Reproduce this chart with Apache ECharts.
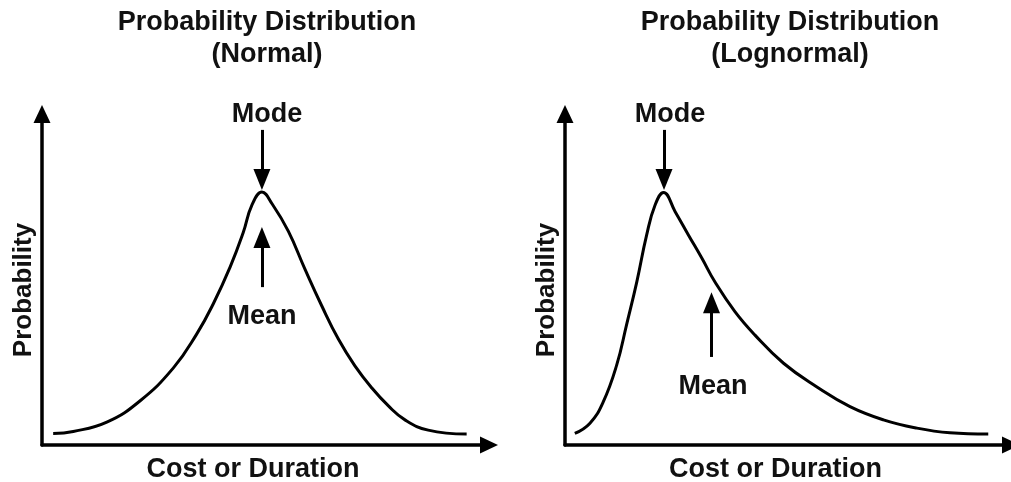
<!DOCTYPE html>
<html>
<head>
<meta charset="utf-8">
<script src="https://cdn.jsdelivr.net/npm/echarts@6/dist/echarts.min.js"></script>
<style>
html,body{margin:0;padding:0;background:#fff;}
#chart{width:1011px;height:482px;}
</style>
</head>
<body>
<div id="chart"></div>
<script>
// ---- data (arbitrary units: x 0..100 along cost axis, y 0..100 probability) ----
const titles = ['Probability Distribution\n(Normal)', 'Probability Distribution\n(Lognormal)'];
const xAxisName = 'Cost or Duration';
const yAxisName = 'Probability';

const normalX = [2.5, 7.0, 14.5, 21.9, 29.4, 34.6, 38.3, 42.1, 45.0, 47.0, 49.2, 51.5, 55.1, 58.8, 62.6, 66.3, 70.0, 73.8, 77.5, 81.2, 86.4, 95.0];
const normalY = [3.5, 4.1, 6.9, 13.3, 23.3, 33.5, 42.6, 53.8, 64.1, 72.6, 76.4, 72.8, 64.6, 53.2, 42.0, 32.0, 23.9, 17.2, 11.8, 7.6, 4.5, 3.3];

const lognormalX = [2.2, 5.6, 8.6, 11.6, 13.8, 16.1, 18.3, 20.2, 22.1, 24.7, 27.7, 30.7, 33.6, 38.1, 42.6, 49.0, 56.4, 63.9, 71.4, 78.9, 86.3, 94.9];
const lognormalY = [3.5, 6.6, 13.1, 24.2, 36.3, 49.3, 63.4, 72.5, 76.3, 70.5, 63.4, 56.4, 49.3, 40.3, 33.2, 24.7, 17.6, 11.6, 7.6, 5.1, 3.7, 3.3];

// annotation arrows: [x, fromY, toY]
const modeArrows = [[49.2, 95.2, 80.2], [22.2, 95.2, 80.2]];
const meanArrows = [[49.2, 47.7, 62.7], [32.85, 26.6, 43.0]];
const modeLabel = 'Mode';
const meanLabel = 'Mean';

function pairs(xs, ys) { return xs.map((x, i) => [x, ys[i]]); }

const FONT = '"Liberation Sans", Arial, sans-serif';
const TXT = '#111';

function arrowLine(a, label, dx, dist) {
  return [{ coord: [a[0], a[1]], label: { show: true, formatter: label, position: 'start', color: TXT, fontSize: 27, fontWeight: 'bold', fontFamily: FONT, distance: dist, padding: dx > 0 ? [0, 0, 0, dx] : (dx < 0 ? [0, -dx, 0, 0] : 0) } },
          { coord: [a[0], a[2]] }];
}

function axisLine() {
  return { show: true, onZero: false, symbol: ['none', 'triangle'], symbolSize: [17, 18], lineStyle: { color: '#000', width: 3.5 } };
}

const grids = [
  { left: 42, top: 114, width: 447, height: 331, outerBoundsMode: 'none', containLabel: false },
  { left: 565, top: 114, width: 446, height: 331, outerBoundsMode: 'none', containLabel: false }
];

const xAxes = [0, 1].map(i => ({
  type: 'value', gridIndex: i, min: 0, max: 100,
  axisLine: axisLine(), axisTick: { show: false }, axisLabel: { show: false }, splitLine: { show: false },
  name: xAxisName, nameLocation: 'middle', nameGap: 11,
  nameTextStyle: { color: TXT, fontSize: 27, fontWeight: 'bold', fontFamily: FONT, padding: [0, 25, 0, 0], verticalAlign: 'top' }
}));
const yAxes = [0, 1].map(i => ({
  type: 'value', gridIndex: i, min: 0, max: 100,
  axisLine: axisLine(), axisTick: { show: false }, axisLabel: { show: false }, splitLine: { show: false },
  name: yAxisName, nameLocation: 'middle', nameGap: 5, nameRotate: 90,
  nameTextStyle: { color: TXT, fontSize: 26, fontWeight: 'bold', fontFamily: FONT, padding: [0, 21, 0, 0], verticalAlign: 'bottom' }
}));

const curves = [pairs(normalX, normalY), pairs(lognormalX, lognormalY)];
const modeDx = [10, 12];
const meanDx = [0, 3];

const series = [0, 1].map(i => ({
  type: 'line', xAxisIndex: i, yAxisIndex: i, data: curves[i],
  smooth: 0.45, showSymbol: false, silent: true, animation: false,
  lineStyle: { color: '#000', width: 3 },
  markLine: {
    silent: true, animation: false,
    symbol: ['none', 'triangle'], symbolSize: [17, 21],
    lineStyle: { color: '#000', width: 3, type: 'solid' },
    data: [arrowLine(modeArrows[i], modeLabel, modeDx[i], 2), arrowLine(meanArrows[i], meanLabel, meanDx[i], 16)]
  }
}));

const titleX = [267, 790];
const graphic = titles.map((t, i) => ({
  type: 'text', x: titleX[i], y: 39, silent: true,
  style: { text: t, fill: TXT, font: 'bold 27px ' + FONT, align: 'center', verticalAlign: 'middle', lineHeight: 32 }
}));

const chart = echarts.init(document.getElementById('chart'), null, { renderer: 'canvas' });
chart.setOption({
  animation: false,
  backgroundColor: '#fff',
  grid: grids,
  xAxis: xAxes,
  yAxis: yAxes,
  series: series,
  graphic: graphic
});
</script>
</body>
</html>
